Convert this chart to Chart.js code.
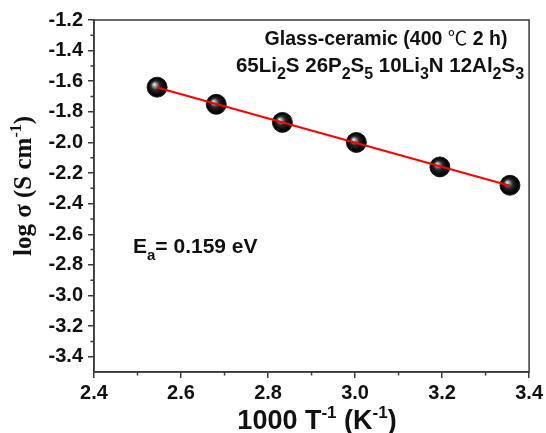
<!DOCTYPE html>
<html>
<head>
<meta charset="utf-8">
<script src="https://cdn.jsdelivr.net/npm/chart.js@4/dist/chart.umd.min.js"></script>
<style>
  html, body { margin: 0; padding: 0; background: #fff; }
  #wrap { width: 546px; height: 433px; position: relative; }
</style>
</head>
<body>
<div id="wrap"><canvas id="arrhenius"></canvas></div>
<script>
// measured points: 1000/T (K^-1) and log conductivity
const invTemp = [2.545, 2.681, 2.833, 3.003, 3.195, 3.356];
const logSigma = [-1.639, -1.751, -1.869, -2.000, -2.160, -2.280];

// linear fit, end points
const fitX = [2.545, 3.356];
const fitY = [-1.641, -2.283];

// tick labels
const xTicks = [2.4, 2.6, 2.8, 3.0, 3.2, 3.4];
const yTicks = [-1.2, -1.4, -1.6, -1.8, -2.0, -2.2, -2.4, -2.6, -2.8, -3.0, -3.2, -3.4];
const xMinor = [2.5, 2.7, 2.9, 3.1, 3.3];
const yMinor = [-1.3, -1.5, -1.7, -1.9, -2.1, -2.3, -2.5, -2.7, -2.9, -3.1, -3.3];

const axisColor = '#3a3a3a';
const sansBold = '"Liberation Sans", Arial, "DejaVu Sans", "Noto Sans CJK SC", sans-serif';
const serifBold = '"Liberation Serif", "Times New Roman", serif';

// draw a string made of parts with optional sub / sup
function drawRich(ctx, parts, x, y, size, family, align, subScale) {
  const small = Math.round(size * (subScale || 0.62));
  const fontFor = p => (p.thin ? '' : 'bold ') + (p.sub || p.sup ? small : size) + 'px ' + (p.family || family);
  let total = 0;
  parts.forEach(p => { ctx.font = fontFor(p); p.w = ctx.measureText(p.t).width; total += p.w; });
  let cx = align === 'center' ? x - total / 2 : (align === 'right' ? x - total : x);
  ctx.textAlign = 'left';
  ctx.textBaseline = 'alphabetic';
  parts.forEach(p => {
    ctx.font = fontFor(p);
    let dy = 0;
    if (p.sub) dy = size * 0.32;
    if (p.sup) dy = -size * 0.42;
    ctx.fillText(p.t, cx, y + dy);
    cx += p.w;
  });
}

const decorPlugin = {
  id: 'decor',
  afterDraw(chart) {
    const { ctx, chartArea: a, scales } = chart;
    ctx.save();
    ctx.strokeStyle = axisColor;
    ctx.lineWidth = 1.5;
    ctx.strokeRect(a.left, a.top, a.right - a.left, a.bottom - a.top);

    // minor ticks (outside)
    ctx.beginPath();
    xMinor.forEach(v => {
      const px = scales.x.getPixelForValue(v);
      ctx.moveTo(px, a.bottom);
      ctx.lineTo(px, a.bottom + 3.5);
    });
    yMinor.forEach(v => {
      const py = scales.y.getPixelForValue(v);
      ctx.moveTo(a.left, py);
      ctx.lineTo(a.left - 3.5, py);
    });
    ctx.stroke();

    ctx.fillStyle = '#111';
    // sample annotation
    drawRich(ctx, [
      { t: 'Glass-ceramic (400 ' },
      { t: '℃', thin: true, family: '"Noto Sans CJK SC", "DejaVu Sans", sans-serif' },
      { t: ' 2 h)' }
    ], 386, 45, 19.5, sansBold, 'center');
    drawRich(ctx, [
      { t: '65Li' }, { t: '2', sub: true }, { t: 'S 26P' }, { t: '2', sub: true },
      { t: 'S' }, { t: '5', sub: true }, { t: ' 10Li' }, { t: '3', sub: true },
      { t: 'N 12Al' }, { t: '2', sub: true }, { t: 'S' }, { t: '3', sub: true }
    ], 380, 72, 20.5, sansBold, 'center', 0.78);
    drawRich(ctx, [{ t: 'E' }, { t: 'a', sub: true }, { t: '= 0.159 eV' }], 133, 253, 21, sansBold, 'left', 0.72);

    // x axis title
    drawRich(ctx, [
      { t: '1000 T' }, { t: '-1', sup: true }, { t: ' (K' }, { t: '-1', sup: true }, { t: ')' }
    ], 317, 429, 27, sansBold, 'center');

    // y axis title (rotated)
    ctx.save();
    ctx.translate(31, 186);
    ctx.rotate(-Math.PI / 2);
    drawRich(ctx, [
      { t: 'log σ (S cm' }, { t: '-1', sup: true }, { t: ')' }
    ], 0, 0, 25, serifBold, 'center');
    ctx.restore();

    ctx.restore();
  }
};

function sphereFill(context) {
  if (context.type !== 'data') return '#000';
  const chart = context.chart;
  const sx = chart.scales.x, sy = chart.scales.y;
  if (!sx || !sy || !context.parsed) return '#000';
  const px = sx.getPixelForValue(context.parsed.x);
  const py = sy.getPixelForValue(context.parsed.y);
  if (!isFinite(px) || !isFinite(py)) return '#000';
  const g = chart.ctx.createRadialGradient(px - 3, py - 3, 0, px, py, 10);
  g.addColorStop(0, '#f4f4f4');
  g.addColorStop(0.18, '#a0a0a0');
  g.addColorStop(0.45, '#2a2a2a');
  g.addColorStop(0.85, '#000');
  g.addColorStop(1, '#1a1a1a');
  return g;
}

const ctx = document.getElementById('arrhenius').getContext('2d');
new Chart(ctx, {
  type: 'scatter',
  data: {
    datasets: [
      {
        type: 'line',
        label: 'fit',
        data: fitX.map((x, i) => ({ x: x, y: fitY[i] })),
        borderColor: '#ff0000',
        borderWidth: 2.2,
        pointRadius: 0,
        fill: false,
        order: 0
      },
      {
        label: 'log sigma',
        data: invTemp.map((x, i) => ({ x: x, y: logSigma[i] })),
        pointRadius: 10,
        pointBackgroundColor: sphereFill,
        pointBorderColor: '#000',
        pointBorderWidth: 0.8,
        showLine: false,
        order: 1
      }
    ]
  },
  options: {
    responsive: true,
    maintainAspectRatio: false,
    animation: false,
    layout: { padding: { top: 20, right: 16, left: 0, bottom: 0 } },
    plugins: {
      legend: { display: false },
      tooltip: { enabled: false }
    },
    scales: {
      x: {
        type: 'linear',
        min: 2.4,
        max: 3.4,
        afterBuildTicks: scale => { scale.ticks = xTicks.map(v => ({ value: v })); },
        afterFit: scale => { scale.height = 61; },
        border: { color: axisColor, width: 1.5 },
        grid: { drawOnChartArea: false, drawTicks: true, tickLength: 6, color: axisColor, lineWidth: 1.5 },
        ticks: {
          color: '#111',
          padding: 3,
          maxRotation: 0,
          font: { family: sansBold, size: 20, weight: 'bold' },
          callback: v => Number(v).toFixed(1)
        }
      },
      y: {
        type: 'linear',
        min: -3.5,
        max: -1.2,
        afterBuildTicks: scale => { scale.ticks = yTicks.map(v => ({ value: v })); },
        afterFit: scale => { scale.width = 94; },
        border: { color: axisColor, width: 1.5 },
        grid: { drawOnChartArea: false, drawTicks: true, tickLength: 6, color: axisColor, lineWidth: 1.5 },
        ticks: {
          color: '#111',
          padding: 5,
          font: { family: sansBold, size: 20, weight: 'bold' },
          callback: v => Number(v).toFixed(1)
        }
      }
    }
  },
  plugins: [decorPlugin]
});
</script>
</body>
</html>
